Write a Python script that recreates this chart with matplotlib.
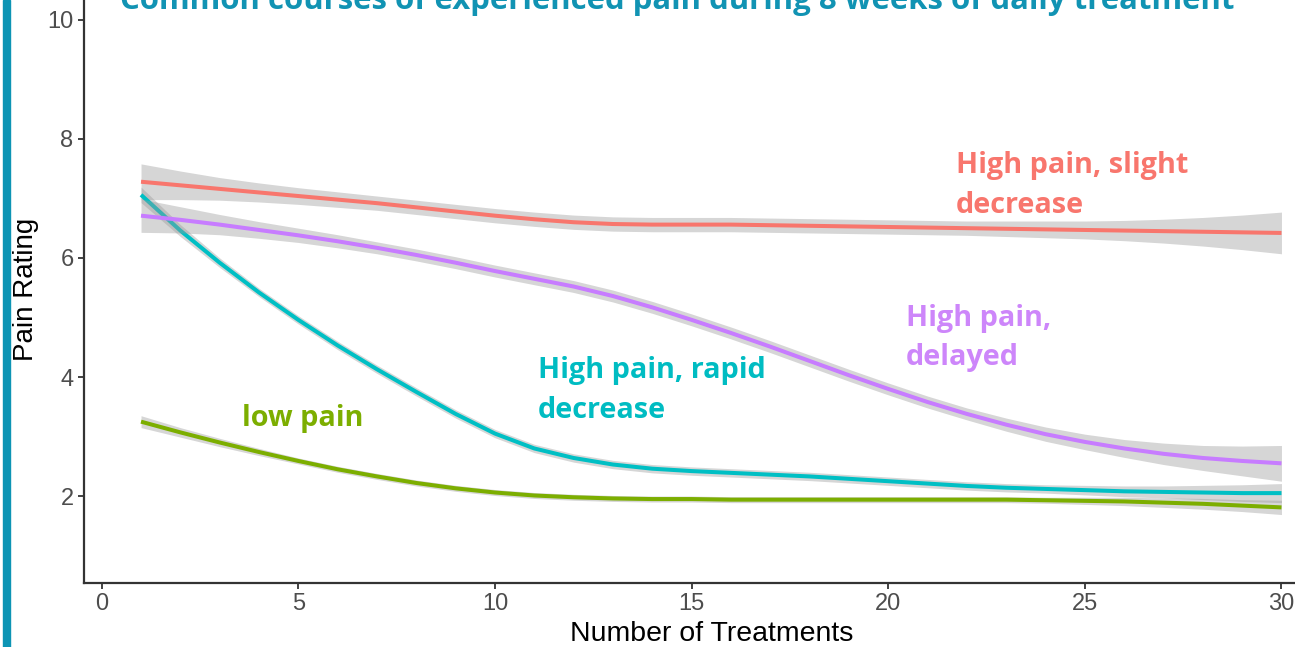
import matplotlib
matplotlib.use("Agg")
import matplotlib.pyplot as plt
import numpy as np

# ---------------- data ----------------
treatments = list(range(1, 31))

slight_decrease = [7.28, 7.22, 7.16, 7.10, 7.04, 6.98, 6.92, 6.85, 6.78, 6.71,
                   6.65, 6.60, 6.57, 6.56, 6.56, 6.56, 6.55, 6.54, 6.53, 6.52,
                   6.51, 6.50, 6.49, 6.48, 6.47, 6.46, 6.45, 6.44, 6.43, 6.42]
slight_decrease_se = [0.30, 0.24, 0.19, 0.16, 0.14, 0.13, 0.12, 0.12, 0.12, 0.12,
                      0.12, 0.12, 0.12, 0.12, 0.12, 0.12, 0.12, 0.12, 0.12, 0.12,
                      0.12, 0.12, 0.13, 0.14, 0.15, 0.17, 0.20, 0.24, 0.29, 0.35]

low_pain = [3.25, 3.07, 2.90, 2.74, 2.59, 2.45, 2.33, 2.22, 2.13, 2.06,
            2.01, 1.98, 1.96, 1.95, 1.95, 1.94, 1.94, 1.94, 1.94, 1.94,
            1.94, 1.94, 1.94, 1.93, 1.92, 1.91, 1.89, 1.87, 1.84, 1.81]
low_pain_se = [0.10, 0.08, 0.07, 0.06, 0.05, 0.05, 0.05, 0.05, 0.05, 0.05,
               0.05, 0.05, 0.05, 0.05, 0.05, 0.05, 0.05, 0.05, 0.05, 0.05,
               0.05, 0.05, 0.05, 0.05, 0.06, 0.07, 0.08, 0.09, 0.10, 0.12]

rapid_decrease = [7.06, 6.46, 5.92, 5.42, 4.96, 4.53, 4.13, 3.75, 3.38, 3.05,
                  2.80, 2.64, 2.53, 2.46, 2.42, 2.39, 2.36, 2.33, 2.29, 2.25,
                  2.21, 2.17, 2.14, 2.12, 2.10, 2.08, 2.07, 2.06, 2.05, 2.05]
rapid_decrease_se = [0.13, 0.10, 0.08, 0.07, 0.07, 0.07, 0.07, 0.07, 0.07, 0.07,
                     0.07, 0.07, 0.07, 0.07, 0.07, 0.07, 0.07, 0.07, 0.07, 0.07,
                     0.07, 0.07, 0.07, 0.07, 0.08, 0.09, 0.10, 0.12, 0.14, 0.16]

delayed = [6.71, 6.64, 6.56, 6.47, 6.38, 6.28, 6.17, 6.05, 5.92, 5.78,
           5.65, 5.52, 5.36, 5.17, 4.96, 4.74, 4.51, 4.27, 4.03, 3.80,
           3.58, 3.38, 3.20, 3.04, 2.91, 2.80, 2.71, 2.64, 2.59, 2.55]
delayed_se = [0.28, 0.22, 0.17, 0.14, 0.12, 0.11, 0.10, 0.10, 0.10, 0.10,
              0.10, 0.10, 0.10, 0.10, 0.10, 0.10, 0.10, 0.10, 0.10, 0.10,
              0.10, 0.10, 0.11, 0.12, 0.13, 0.15, 0.18, 0.21, 0.25, 0.30]

x_ticks = [0, 5, 10, 15, 20, 25, 30]
y_ticks = [2, 4, 6, 8, 10]

title = "Common courses of experienced pain during 8 weeks of daily treatment"
x_label = "Number of Treatments"
y_label = "Pain Rating"

# ---------------- figure ----------------
W, H = 1295, 647
fig = plt.figure(figsize=(W / 100, H / 100), dpi=100)
fig.patch.set_facecolor("white")
renderer = fig.canvas.get_renderer()


def fit_width(txt, target_px):
    w = txt.get_window_extent(renderer).width
    txt.set_fontsize(txt.get_fontsize() * target_px / w)
    return txt.get_fontsize()


# axes (extends beyond right/top edge: the reference is cropped)
ax_left, ax_right = 84.0, 1338.5
ax_bottom_px, ax_top_px = 583.0, -4.0
ax = fig.add_axes([ax_left / W, (H - ax_bottom_px) / H,
                   (ax_right - ax_left) / W, (ax_bottom_px - ax_top_px) / H])
ax.set_xlim(-0.45, 31.45)
ax.set_ylim(0.54, 10.40)

band_color = "#999999"
series = [
    (slight_decrease, slight_decrease_se, "#F8766D"),
    (low_pain, low_pain_se, "#7CAE00"),
    (rapid_decrease, rapid_decrease_se, "#00BFC4"),
    (delayed, delayed_se, "#C77CFF"),
]
x = np.array(treatments)
z = 2
for vals, se, col in series:
    v = np.array(vals)
    s = np.array(se)
    ax.fill_between(x, v - s, v + s, color=band_color, alpha=0.4, lw=0, zorder=z)
    ax.plot(x, v, color=col, lw=2.9, solid_capstyle="butt",
            solid_joinstyle="round", zorder=z + 0.5)
    z += 1

for sp in ["top", "right"]:
    ax.spines[sp].set_visible(False)
for sp in ["left", "bottom"]:
    ax.spines[sp].set_color("#333333")
    ax.spines[sp].set_linewidth(1.6)

ax.set_xticks(x_ticks)
ax.set_yticks(y_ticks)
ax.tick_params(axis="both", colors="#333333", length=4.5, width=1.3,
               labelsize=17, labelcolor="#4d4d4d", pad=3)
for lab in ax.get_xticklabels() + ax.get_yticklabels():
    lab.set_family("Liberation Sans")

ax.set_xlabel(x_label, fontsize=20.5, family="Liberation Sans", color="black", labelpad=4)
ax.set_ylabel(y_label, fontsize=20, family="Liberation Sans", color="black", labelpad=6)

# annotations
ann_family = "Open Sans"
ann = [
    (21.72, 7.42, "High pain, slight", "#F8766D"),
    (21.72, 6.75, "decrease", "#F8766D"),
    (20.44, 4.85, "High pain,", "#CD86FA"),
    (20.44, 4.20, "delayed", "#CD86FA"),
    (11.10, 3.98, "High pain, rapid", "#00BCC2"),
    (11.10, 3.31, "decrease", "#00BCC2"),
    (3.58, 3.18, "low pain", "#7CAE00"),
]
texts = []
for xx, yy, t, c in ann:
    texts.append(ax.text(xx, yy, t, color=c, zorder=20, family=ann_family,
                         weight="bold", fontsize=18, va="baseline", ha="left"))
size = fit_width(texts[0], 233)
for t in texts:
    t.set_fontsize(size)

# left accent bar
fig.patches.append(plt.Rectangle((3 / W, 0), 7 / W, 1, transform=fig.transFigure,
                                 color="#0D94B4", zorder=10))

# title (cropped at the top in the reference)
ttl = fig.text(120 / W, 1 - 9 / H, title, family=ann_family, weight="bold", fontsize=24,
               color="#1193B3", ha="left", va="baseline")
fit_width(ttl, 1117)

fig.savefig("out.png", dpi=100)
